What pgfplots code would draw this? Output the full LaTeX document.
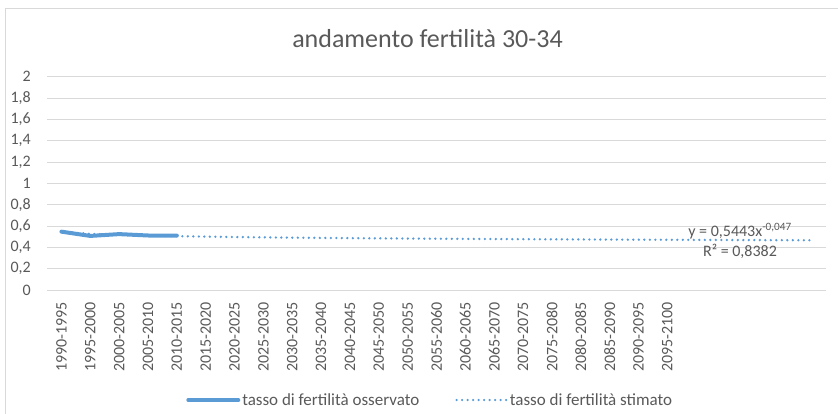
\documentclass[border=0pt]{standalone}
\usepackage{pgfplots}
\pgfplotsset{compat=1.18}
\usepackage{fontspec}
\setmainfont{Carlito}
\definecolor{ser}{HTML}{5B9BD5}
\definecolor{txt}{HTML}{595959}
\definecolor{grd}{HTML}{D9D9D9}
\begin{document}
\begin{tikzpicture}
\useasboundingbox (0pt,0pt) rectangle (838pt,414pt);
\draw[grd, line width=0.8pt] (5pt,0pt) -- (5pt,406pt) -- (838pt,406pt);
\begin{axis}[at={(47pt,124pt)}, anchor=south west, scale only axis,
  width=779pt, height=213.3pt,
  xmin=-0.5, xmax=26.5, ymin=0, ymax=2,
  ytick={0,0.2,0.4,0.6,0.8,1,1.2,1.4,1.6,1.8,2},
  ymajorgrids, grid style={grd, line width=0.9pt},
  axis line style={draw=none}, major tick length=0pt,
  xtick={0,...,21},
  xticklabels={1990-1995,1995-2000,2000-2005,2005-2010,2010-2015,2015-2020,2020-2025,2025-2030,2030-2035,2035-2040,2040-2045,2045-2050,2050-2055,2055-2060,2060-2065,2065-2070,2070-2075,2075-2080,2080-2085,2085-2090,2090-2095,2095-2100},
  x tick label style={rotate=90, anchor=east, font=\fontsize{16}{19}\selectfont, text=txt, inner sep=0pt, xshift=-12pt},
  y tick label style={font=\fontsize{16}{19}\selectfont, text=txt, anchor=east, inner sep=0pt, xshift=-16pt},
  /pgf/number format/.cd, use comma, assume math mode=true,
  /pgfplots/.cd,
  legend style={at={(0.492,-0.516)}, anchor=center, draw=none, fill=none,
    legend columns=2, font=\fontsize{17}{20}\selectfont, text=txt,
    nodes={inner sep=2pt},
    /tikz/every even column/.append style={column sep=34pt}},
  legend image code/.code={\draw[#1] (0pt,0pt) -- (50pt,0pt);},
]
\addplot[ser, line width=4pt, line join=round, line cap=round] coordinates {
(0,0.547) (1,0.507) (2,0.524) (3,0.511) (4,0.510)
};
\addlegendentry{tasso di fertilità osservato}
\addplot[ser, line width=2.6pt, line cap=round, dash pattern=on 0pt off 5.5pt] coordinates {
(0,0.5443) (1,0.5269) (2,0.5169) (3,0.5100) (4,0.5047) (5,0.5003) (6,0.4967)
(7,0.4936) (8,0.4909) (9,0.4885) (10,0.4863) (11,0.4843) (12,0.4825) (13,0.4808)
(14,0.4792) (15,0.4778) (16,0.4764) (17,0.4752) (18,0.4740) (19,0.4728) (20,0.4717)
(21,0.4707) (22,0.4697) (23,0.4688) (24,0.4679) (25,0.4670) (26,0.4662)
};
\addlegendentry{tasso di fertilità stimato}
\end{axis}
\node[anchor=base, text=txt, font=\fontsize{26}{31}\selectfont] at (427.5pt,366pt) {andamento fertilità 30-34};
\node[anchor=base, text=txt, font=\fontsize{16}{19}\selectfont, inner sep=0pt] at (740pt,177pt) {y = 0,5443x\textsuperscript{-0,047}};
\node[anchor=base, text=txt, font=\fontsize{16}{19}\selectfont, inner sep=0pt] at (740pt,157pt) {R² = 0,8382};
\end{tikzpicture}
\end{document}
